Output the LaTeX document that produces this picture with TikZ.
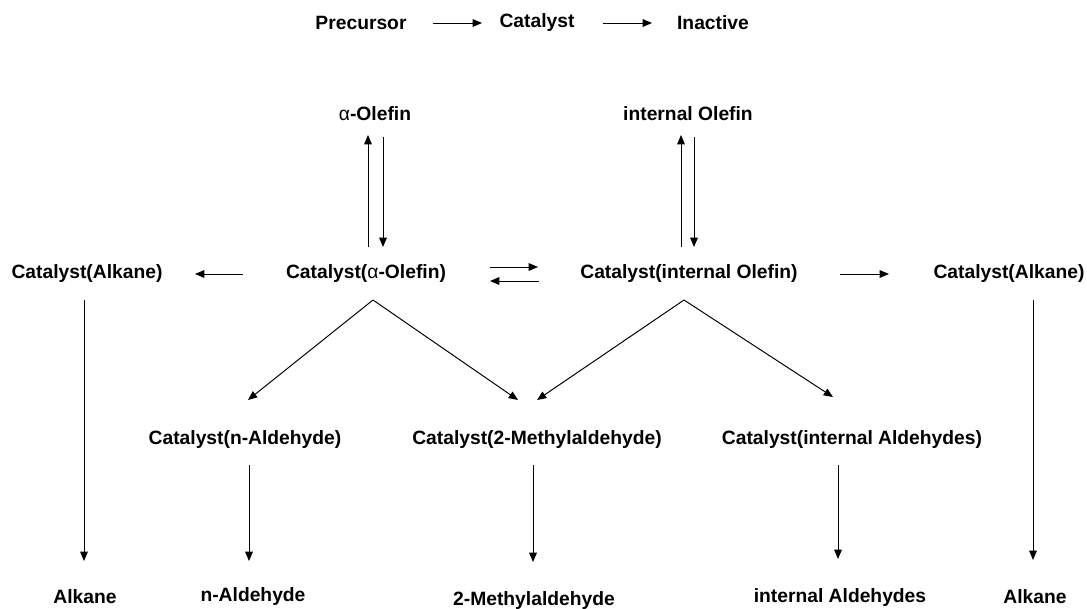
\documentclass[tikz,border=0pt]{standalone}
\usepackage{fontspec}
\setmainfont{Liberation Sans}
\usetikzlibrary{arrows.meta,calc}
\tikzset{
  lbl/.style={font=\fontsize{13.7}{16}\selectfont\bfseries, inner sep=0pt},
  arr/.style={-{Triangle[length=6.6pt,width=5.4pt]}, line width=0.7pt}
}
\newcommand{\alf}{{\mdseries α}}
\begin{document}
\begin{tikzpicture}[x=0.025cm,y=-0.025cm]
\useasboundingbox (0,0) rectangle (1087,608);

\node[lbl] (pre) at (361,23) {Precursor};
\node[lbl] (cat) at (537,23) {Catalyst};
\node[lbl] (inact) at (713,23) {Inactive};
\draw[arr] ($(pre)+(72,0)$) -- ($(cat)+(-55,0)$);
\draw[arr] ($(cat)+(66,0)$) -- ($(inact)+(-61,0)$);

\node[lbl] (aolef) at (375,114) {\alf-Olefin};
\node[lbl] (iolef) at (688,114) {internal Olefin};

\node[lbl] (calk1) at (87,274) {Catalyst(Alkane)};
\node[lbl] (cao) at (366,274) {Catalyst(\alf-Olefin)};
\node[lbl] (cio) at (689,274) {Catalyst(internal Olefin)};
\node[lbl] (calk2) at (1009,274) {Catalyst(Alkane)};

\draw[arr] ($(cao)+(2,-27)$) -- ($(aolef)+(-7,21)$);
\draw[arr] ($(aolef)+(8,23)$) -- ($(cao)+(17,-27)$);
\draw[arr] ($(cio)+(-8,-27)$) -- ($(iolef)+(-7,21)$);
\draw[arr] ($(iolef)+(6,23)$) -- ($(cio)+(5,-27)$);

\draw[arr] ($(cao)+(-123,0)$) -- ($(calk1)+(108,0)$);
\draw[arr] ($(cao)+(124,-7)$) -- ($(cio)+(-151,-7)$);
\draw[arr] ($(cio)+(-150,7)$) -- ($(cao)+(124,7)$);
\draw[arr] ($(cio)+(151,0)$) -- ($(calk2)+(-120,0)$);

\node[lbl] (cnald) at (245,440) {Catalyst(n-Aldehyde)};
\node[lbl] (cmeth) at (537,440) {Catalyst(2-Methylaldehyde)};
\node[lbl] (cial) at (852,440) {Catalyst(internal Aldehydes)};

\draw[arr] ($(cao)+(7,26)$) -- ($(cnald)+(3,-40)$);
\draw[arr] ($(cao)+(7,26)$) -- ($(cmeth)+(-19,-40)$);
\draw[arr] ($(cio)+(-5,26)$) -- ($(cmeth)+(0,-40)$);
\draw[arr] ($(cio)+(-5,26)$) -- ($(cial)+(-19,-43)$);

\node[lbl] (alk1) at (85,597) {Alkane};
\node[lbl] (nald) at (253,597) {n-Aldehyde};
\node[lbl] (meth) at (534,601) {2-Methylaldehyde};
\node[lbl] (ial) at (840,598) {internal Aldehydes};
\node[lbl] (alk2) at (1035,597) {Alkane};

\draw[arr] ($(calk1)+(-3,26)$) -- ($(alk1)+(-1,-36)$);
\draw[arr] ($(cnald)+(4,25)$) -- ($(nald)+(-4,-36)$);
\draw[arr] ($(cmeth)+(-4,25)$) -- ($(meth)+(-1,-39)$);
\draw[arr] ($(cial)+(-14,25)$) -- ($(ial)+(-2,-39)$);
\draw[arr] ($(calk2)+(24,26)$) -- ($(alk2)+(-2,-37)$);
\end{tikzpicture}
\end{document}
